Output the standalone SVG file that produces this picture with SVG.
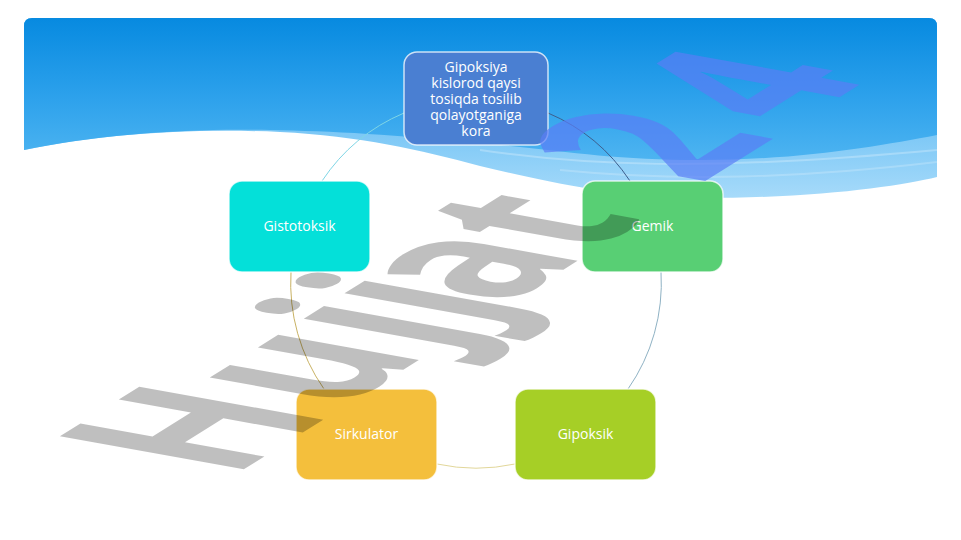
<svg xmlns="http://www.w3.org/2000/svg" width="961" height="540" viewBox="0 0 961 540">
  <defs>
    <linearGradient id="skyDark" x1="0" y1="18" x2="0" y2="200" gradientUnits="userSpaceOnUse">
      <stop offset="0" stop-color="#078ae0"/>
      <stop offset="0.45" stop-color="#2ea2ec"/>
      <stop offset="1" stop-color="#62c0f4"/>
    </linearGradient>
    <linearGradient id="skyLight" x1="0" y1="120" x2="0" y2="200" gradientUnits="userSpaceOnUse">
      <stop offset="0" stop-color="#74c4f5"/>
      <stop offset="1" stop-color="#a8dbfa"/>
    </linearGradient>
    <style>
      .node-box { stroke: #ffffff; stroke-opacity: 0.75; stroke-width: 1.5; }
      .node-label { font-family: "Open Sans", "Liberation Sans", sans-serif; font-size: 14px; fill: #ffffff; text-anchor: middle; }
      .arc { fill: none; stroke-width: 1; }
      .wm { font-family: "Open Sans", "Liberation Sans", sans-serif; font-weight: 700; font-size: 100px; }
    </style>
  </defs>

  <!-- background -->
  <rect x="0" y="0" width="961" height="540" fill="#ffffff"/>
  <path d="M24,26 Q24,18 32,18 L929,18 Q937,18 937,26 L937,177 C900,186 820,198 700,198 C610,197 540,180 480,166 C420,150 360,136 280,132 C190,128 100,134 24,150 Z" fill="url(#skyLight)"/>
  <path d="M24,26 Q24,18 32,18 L929,18 Q937,18 937,26 L937,135 C880,146 800,160 700,160 C610,160 560,150 480,143 C400,135 330,131 270,130 C190,128 100,134 24,150 Z" fill="url(#skyDark)"/>
  <path d="M480,150 C580,165 700,172 937,150" fill="none" stroke="#ffffff" stroke-opacity="0.25" stroke-width="2"/>
  <path d="M560,170 C680,182 800,178 937,162" fill="none" stroke="#ffffff" stroke-opacity="0.2" stroke-width="2"/>

  <!-- connectors -->
  <g id="connectors">
    <path class="arc" d="M322,181 A185,185 0 0 1 404,113" stroke="#7fd6e6"/>
    <path class="arc" d="M548,113 A185,185 0 0 1 630,181" stroke="#3d5f8e"/>
    <path class="arc" d="M661,272 A185,185 0 0 1 628,389" stroke="#8fb2c4"/>
    <path class="arc" d="M515,464 A185,185 0 0 1 437,464" stroke="#e2d79a"/>
    <path class="arc" d="M324,389 A185,185 0 0 1 291,272" stroke="#c9b264"/>
  </g>

  <!-- nodes -->
  <g id="node-gipoksiya">
    <rect class="node-box" x="404" y="52" width="144" height="93" rx="13" fill="#4a7fd2"/>
    <text class="node-label" x="476" y="71.5">Gipoksiya</text>
    <text class="node-label" x="476" y="87.5">kislorod qaysi</text>
    <text class="node-label" x="476" y="103.5">tosiqda tosilib</text>
    <text class="node-label" x="476" y="119.5">qolayotganiga</text>
    <text class="node-label" x="476" y="135.5">kora</text>
  </g>
  <g id="node-gistotoksik">
    <rect class="node-box" x="229" y="181" width="141" height="91" rx="13" fill="#04e0d9"/>
    <text class="node-label" x="299.5" y="231">Gistotoksik</text>
  </g>
  <g id="node-gemik">
    <rect class="node-box" x="582" y="181" width="141" height="91" rx="13" fill="#58cf74"/>
    <text class="node-label" x="652.5" y="231">Gemik</text>
  </g>
  <g id="node-gipoksik">
    <rect class="node-box" x="515" y="389" width="141" height="91" rx="13" fill="#a6cf26"/>
    <text class="node-label" x="585.5" y="439">Gipoksik</text>
  </g>
  <g id="node-sirkulator">
    <rect class="node-box" x="296" y="389" width="141" height="91" rx="13" fill="#f4bf3c"/>
    <text class="node-label" x="366.5" y="439">Sirkulator</text>
  </g>

  <!-- watermark -->
  <g id="watermark">
    <text class="wm" transform="matrix(1.357,-0.848,2.577,0.462,773.1,138.6)"><tspan fill="#000000" fill-opacity="0.25" x="-399 -319 -250 -220 -197 -136">Hujjat</tspan><tspan fill="#5a7ef5" fill-opacity="0.7" x="-54 16.7">24</tspan></text>
  </g>
</svg>
